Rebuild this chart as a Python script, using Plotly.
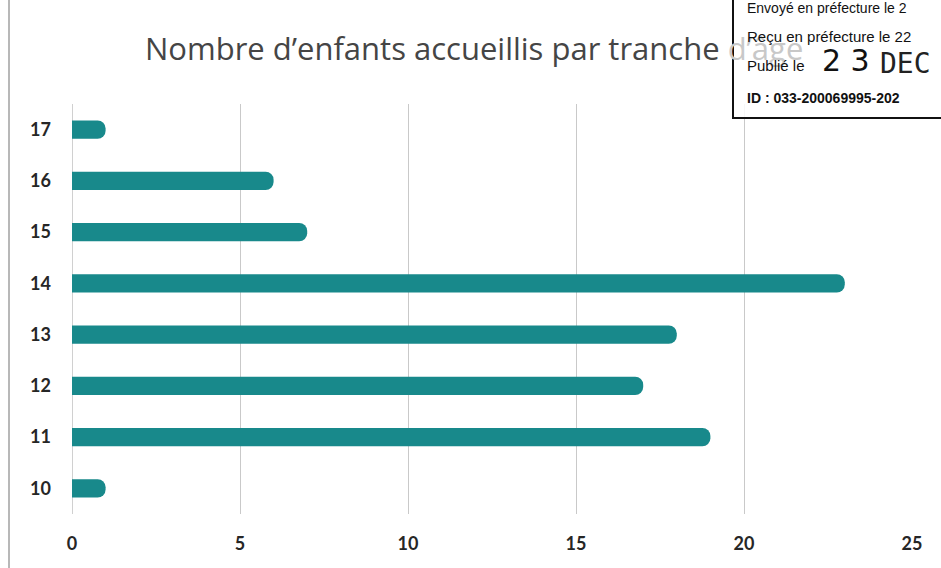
import plotly.graph_objects as go

# Data
ages = ["10", "11", "12", "13", "14", "15", "16", "17"]
enfants = [1, 19, 17, 18, 23, 7, 6, 1]
x_ticks = [0, 5, 10, 15, 20, 25]

title_main = "Nombre d’enfants accueillis par tranche"
title_hidden = "d’âge"

stamp_lines = ["Envoyé en préfecture le 2", "Reçu en préfecture le 22", "Publié le"]
stamp_date = ["2 3", "DEC"]
stamp_id = "ID : 033-200069995-202"

W, H = 941, 568
L, R, T, B = 72, 29, 104, 54
PW, PH = W - L - R, H - T - B

def px(x):
    return (x - L) / PW

def py(y):
    return (H - B - y) / PH

fig = go.Figure()
fig.add_trace(go.Bar(
    y=ages, x=enfants, orientation="h",
    marker=dict(color="#18898b", line=dict(width=0)),
    width=0.36,
    hoverinfo="x+y",
))

fig.update_layout(
    width=W, height=H,
    margin=dict(l=L, r=R, t=T, b=B),
    paper_bgcolor="white", plot_bgcolor="white",
    showlegend=False,
    barcornerradius=8,
    font=dict(family="Lato, Open Sans, sans-serif", color="#333333"),
    xaxis=dict(
        range=[0, 25], tickvals=x_ticks, ticktext=[f"<b>{v}</b>" for v in x_ticks],
        showgrid=True, gridcolor="#c9c9c9", gridwidth=1,
        zeroline=True, zerolinecolor="#d0d0d0", zerolinewidth=1,
        showline=False, ticks="",
        tickfont=dict(size=18, color="#262626", family="Lato"),
        ticklabelstandoff=17,
    ),
    yaxis=dict(
        type="category", categoryorder="array", categoryarray=ages,
        range=[-0.5, 7.5],
        tickvals=ages, ticktext=[f"<b>{a}</b>" for a in ages],
        showgrid=False, zeroline=False, showline=False, ticks="",
        tickfont=dict(size=18, color="#262626", family="Lato"),
        ticklabelstandoff=20,
    ),
)

shapes = []
# left frame line of the scanned chart box
shapes.append(dict(type="line", xref="paper", yref="paper",
                   x0=px(9), x1=px(9), y0=py(0), y1=py(568),
                   line=dict(color="#a0a0a0", width=1.5), layer="above"))
# stamp box
shapes.append(dict(type="rect", xref="paper", yref="paper",
                   x0=px(733), x1=px(960), y0=py(118), y1=py(-10),
                   fillcolor="rgba(255,255,255,0.85)",
                   line=dict(color="#111111", width=2), layer="above"))
fig.update_layout(shapes=shapes)

def ann(text, x, y, size, color="#111111", family="Liberation Sans"):
    return dict(text=text, xref="paper", yref="paper", x=px(x), y=py(y),
                xanchor="left", yanchor="middle", showarrow=False,
                font=dict(size=size, color=color, family=family))

annotations = [
    ann(f"{title_main} <span style='color:#c8c8c8'>{title_hidden}</span>",
        143, 48, 31, "#454545", "Open Sans"),
    ann(stamp_lines[0], 745, 8, 14),
    ann(stamp_lines[1], 745, 36, 15),
    ann(stamp_lines[2], 745, 66, 15),
    ann(stamp_date[0], 820, 61, 30, "#111111", "DejaVu Sans"),
    ann(stamp_date[1], 878, 64, 28, "#222222", "DejaVu Sans Mono"),
    ann(f"<b>{stamp_id}</b>", 745, 98, 14),
]
fig.update_layout(annotations=annotations)

fig.write_html("out.html", config={"displayModeBar": False},
               post_script="document.body.style.margin='0';document.body.style.overflow='hidden';")
